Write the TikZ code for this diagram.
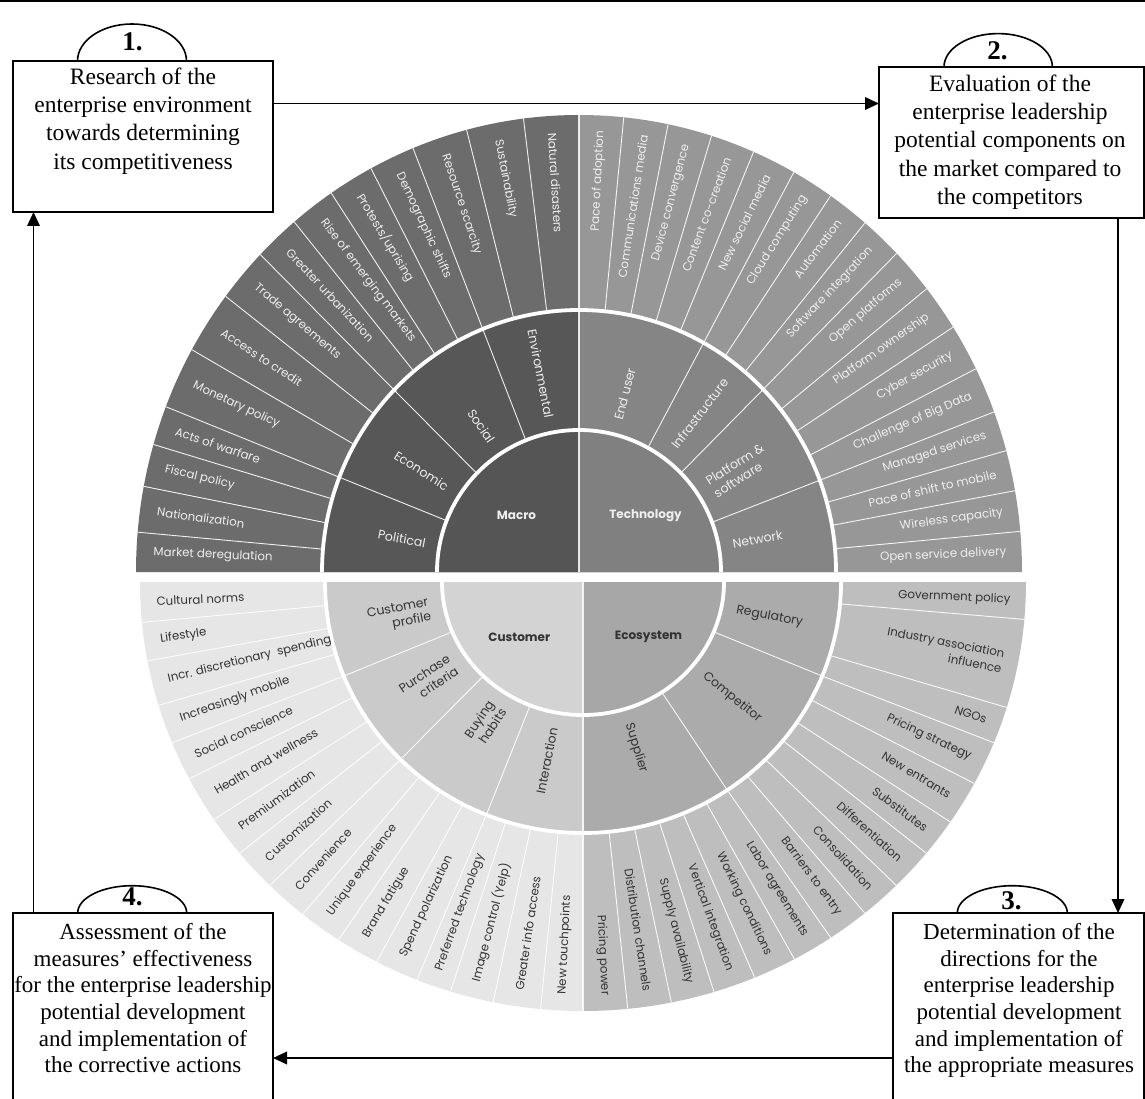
\documentclass[tikz,border=0pt]{standalone}
\usepackage{fontspec}
\setmainfont{Liberation Serif}
\newfontfamily\wf{Poppins}
\usetikzlibrary{arrows.meta}
\definecolor{mO}{HTML}{6C6C6C}
\definecolor{mM}{HTML}{575757}
\definecolor{mI}{HTML}{555555}
\definecolor{tO}{HTML}{979797}
\definecolor{tM}{HTML}{858585}
\definecolor{tI}{HTML}{808080}
\definecolor{cO}{HTML}{E6E6E6}
\definecolor{cM}{HTML}{CACACA}
\definecolor{cI}{HTML}{D3D3D3}
\definecolor{eO}{HTML}{BEBEBE}
\definecolor{eM}{HTML}{ABABAB}
\definecolor{eI}{HTML}{A7A7A7}
\definecolor{lighttext}{HTML}{EEEEEE}
\definecolor{darktext}{HTML}{333333}
\newcounter{wlab}
% outer labels
\newcommand\wOL[5]{\stepcounter{wlab}\node[olab,#5,anchor=west,rotate=#1-180] (w\arabic{wlab}) at (#1:#3pt and #4pt) {#2};}
\newcommand\wOR[5]{\stepcounter{wlab}\node[olab,#5,anchor=east,rotate=#1] (w\arabic{wlab}) at (#1:#3pt and #4pt) {#2};}
% middle labels
\newcommand\wML[5]{\stepcounter{wlab}\node[mlab,#5,anchor=east,rotate=#1-180] (w\arabic{wlab}) at (#1:#3pt and #4pt) {#2};}
\newcommand\wMR[5]{\stepcounter{wlab}\node[mlab,#5,anchor=west,rotate=#1] (w\arabic{wlab}) at (#1:#3pt and #4pt) {#2};}
% filled sector from centre
\newcommand\wpie[5]{\fill[#5] (0,0) -- (#1:#3pt and #4pt) arc[start angle=#1,end angle=#2,x radius=#3pt,y radius=#4pt] -- cycle;}
\begin{document}
\begin{tikzpicture}[x=1pt,y=1pt,
  olab/.style={inner sep=0pt,font=\wf\fontsize{11.8}{15.5}\selectfont},
  mlab/.style={inner sep=0pt,font=\wf\fontsize{12.5}{15}\selectfont},
  clab/.style={inner sep=0pt,font=\wf\bfseries\fontsize{12}{14}\selectfont},
  txL/.style={text=lighttext},
  txD/.style={text=darktext},
  sepline/.style={white,line width=0.9pt,opacity=0.9},
  ringgap/.style={white,line width=3.8pt},
  divline/.style={white,line width=1.3pt,opacity=0.85},
  boxA/.style={draw,line width=1.6pt,inner sep=0pt,outer sep=0pt},
  conn/.style={line width=1.9pt,-{Triangle[length=14pt,width=12.5pt]}},
  tabarc/.style={line width=1.6pt},
  num/.style={font=\fontsize{27}{30}\selectfont\bfseries,inner sep=0pt,anchor=base},
  btxtA/.style={align=center,inner sep=0pt,anchor=north,font=\fontsize{23.5}{28.3}\selectfont},
  btxtB/.style={align=center,inner sep=0pt,anchor=north,font=\fontsize{23}{26.7}\selectfont}
]
\useasboundingbox (0,0) rectangle (1145,-1099);
\fill[white] (0,0) rectangle (1145,-1099);

% ================= top half =================
\begin{scope}[shift={(579,-572)}]
  \wpie{90}{180}{443}{457}{mO}
  \wpie{90}{180}{257}{262}{mM}
  \wpie{90}{180}{142}{142}{mI}
  \wpie{0}{90}{443}{457}{tO}
  \wpie{0}{90}{257}{262}{tM}
  \wpie{0}{90}{142}{142}{tI}
  \foreach \a in {175,169.2,163.8,158.8,150.9,142.9,136,130,124,118,112,104.7,97.2,
                  84.2,78.4,72.6,66.8,61,55.4,49.8,44.2,38.3,32.4,26.4,20.5,15.4,10.25,5.1}
    \draw[sepline] (\a:257pt and 262pt) -- (\a:443pt and 457pt);
  \foreach \a in {158.8,136,112,61,44.2,20.5}
    \draw[sepline] (\a:142pt and 142pt) -- (\a:257pt and 262pt);
  \draw[divline] (0,0) -- (0,457);
  \draw[ringgap] (0:142pt) arc[start angle=0,end angle=180,radius=142pt];
  \draw[ringgap] (0:257pt and 262pt) arc[start angle=0,end angle=180,x radius=257pt,y radius=262pt];
  % Macro outer
  \wOL{177.5}{Market deregulation}{426}{440}{txL}
  \wOL{172.1}{Nationalization}{426}{440}{txL}
  \wOL{166.5}{Fiscal policy}{426}{440}{txL}
  \wOL{161.3}{Acts of warfare}{426}{440}{txL}
  \wOL{154.85}{Monetary policy}{426}{440}{txL}
  \wOL{146.9}{Access to credit}{426}{440}{txL}
  \wOL{139.45}{Trade agreements}{426}{440}{txL}
  \wOL{133}{Greater urbanization}{426}{440}{txL}
  \wOL{127}{Rise of emerging markets}{426}{440}{txL}
  \wOL{121}{Protests/uprising}{426}{440}{txL}
  \wOL{115}{Demographic shifts}{426}{440}{txL}
  \wOL{108.35}{Resource scarcity}{426}{440}{txL}
  \wOL{100.95}{Sustainability}{426}{440}{txL}
  \wOL{93.6}{Natural disasters}{426}{440}{txL}
  % Technology outer
  \wOR{87.1}{Pace of adoption}{428}{442}{txL}
  \wOR{81.3}{Communications media}{428}{442}{txL}
  \wOR{75.5}{Device convergence}{428}{442}{txL}
  \wOR{69.7}{Content co-creation}{428}{442}{txL}
  \wOR{63.9}{New social media}{428}{442}{txL}
  \wOR{58.2}{Cloud computing}{428}{442}{txL}
  \wOR{52.6}{Automation}{428}{442}{txL}
  \wOR{47}{Software integration}{428}{442}{txL}
  \wOR{41.25}{Open platforms}{428}{442}{txL}
  \wOR{35.35}{Platform ownership}{428}{442}{txL}
  \wOR{29.4}{Cyber security}{428}{442}{txL}
  \wOR{23.45}{Challenge of Big Data}{428}{442}{txL}
  \wOR{17.95}{Managed services}{428}{442}{txL}
  \wOR{12.8}{Pace of shift to mobile}{428}{442}{txL}
  \wOR{7.7}{Wireless capacity}{428}{442}{txL}
  \wOR{2.55}{Open service delivery}{428}{442}{txL}
  % middle labels
  \wML{169.4}{Political}{156}{157}{txL}
  \wML{147.4}{Economic}{156}{157}{txL}
  \wML{124}{Social}{156}{157}{txL}
  \wML{101}{Environmental}{156}{157}{txL}
  \wMR{75.5}{End user}{156}{157}{txL}
  \wMR{52.6}{Infrastructure}{156}{157}{txL}
  \wMR{32.35}{Platform \&\\software}{156}{157}{txL,align=left}
  \wMR{10.25}{Network}{156}{157}{txL}
\end{scope}

% ================= bottom half =================
\begin{scope}[shift={(583,-582)}]
  \wpie{180}{270}{443}{429}{cO}
  \wpie{180}{270}{258}{251}{cM}
  \wpie{180}{270}{141}{133}{cI}
  \wpie{270}{360}{443}{429}{eO}
  \wpie{270}{360}{258}{251}{eM}
  \wpie{270}{360}{141}{133}{eI}
  \foreach \a in {185.4,190.6,196.7,202,207.3,213.6,219.2,225,230.75,236.5,242.25,248,252.6,258.3,264.5,
                  275.8,281.5,287.2,292.8,298.5,304,309.5,315,320.8,326,332,338,343,355}
    \draw[sepline] (\a:258pt and 251pt) -- (\a:443pt and 429pt);
  \foreach \a in {202,225,248,304,338}
    \draw[sepline] (\a:141pt and 133pt) -- (\a:258pt and 251pt);
  \draw[divline] (0,0) -- (0,-429);
  \draw[ringgap] (180:141pt and 133pt) arc[start angle=180,end angle=360,x radius=141pt,y radius=133pt];
  \draw[ringgap] (180:258pt and 251pt) arc[start angle=180,end angle=360,x radius=258pt,y radius=251pt];
  % Customer outer
  \wOL{182.7}{Cultural norms}{427}{413}{txD}
  \wOL{188}{Lifestyle}{427}{413}{txD}
  \wOL{193.65}{Incr. discretionary~ spending}{427}{413}{txD}
  \wOL{199.35}{Increasingly mobile}{427}{413}{txD}
  \wOL{204.65}{Social conscience}{427}{413}{txD}
  \wOL{210.45}{Health and wellness}{427}{413}{txD}
  \wOL{216.4}{Premiumization}{427}{413}{txD}
  \wOL{222.1}{Customization}{427}{413}{txD}
  \wOL{227.9}{Convenience}{427}{413}{txD}
  \wOL{233.6}{Unique experience}{427}{413}{txD}
  \wOL{239.4}{Brand fatigue}{427}{413}{txD}
  \wOL{245.1}{Spend polarization}{427}{413}{txD}
  \wOL{250.3}{Preferred technology}{427}{413}{txD}
  \wOL{255.45}{Image control (Yelp)}{427}{413}{txD}
  \wOL{261.4}{Greater info access}{427}{413}{txD}
  \wOL{267.25}{New touchpoints}{427}{413}{txD}
  % Ecosystem outer
  \wOR{272.9}{Pricing power}{428}{414}{txD}
  \wOR{278.65}{Distribution channels}{428}{414}{txD}
  \wOR{284.35}{Supply availability}{428}{414}{txD}
  \wOR{290}{Vertical integration}{428}{414}{txD}
  \wOR{295.65}{Working conditions}{428}{414}{txD}
  \wOR{301.25}{Labor agreements}{428}{414}{txD}
  \wOR{306.75}{Barriers to entry}{428}{414}{txD}
  \wOR{312.25}{Consolidation}{428}{414}{txD}
  \wOR{317.9}{Differentiation}{428}{414}{txD}
  \wOR{323.4}{Substitutes}{428}{414}{txD}
  \wOR{329}{New entrants}{428}{414}{txD}
  \wOR{335}{Pricing strategy}{428}{414}{txD}
  \wOR{340.5}{NGOs}{428}{414}{txD}
  \wOR{349}{Industry association\\influence}{428}{414}{txD,align=right}
  \wOR{357.5}{Government policy}{428}{414}{txD}
  % middle labels
  \wML{191}{Customer\\profile}{156}{148}{txD,align=right}
  \wML{213.5}{Purchase\\criteria}{156}{148}{txD,align=right}
  \wML{236.5}{Buying\\habits}{156}{148}{txD,align=right}
  \wML{259}{Interaction}{156}{148}{txD}
  \wMR{349}{Regulatory}{156}{148}{txD}
  \wMR{321}{Competitor}{156}{148}{txD}
  \wMR{287}{Supplier}{156}{148}{txD}
\end{scope}

% centre labels
\node[clab,txL] (cMacro) at (516.5,-515) {Macro};
\node[clab,txL] (cTech) at (645.5,-515.5) {Technology};
\node[clab,txD] (cCust) at (519.3,-637.3) {Customer};
\node[clab,txD] (cEco) at (648.5,-637.3) {Ecosystem};

% ================= frame and boxes =================
\draw[line width=1.7pt] (0,-0.85) -- (1145,-0.85);

\node[boxA,minimum width=260pt,minimum height=151pt] (b1) at (143,-136.5) {};
\node[boxA,minimum width=265pt,minimum height=151pt] (b2) at (1011.5,-142.5) {};
\node[boxA,minimum width=251pt,minimum height=200pt] (b3) at (1018.5,-1013) {};
\node[boxA,minimum width=260pt,minimum height=200pt] (b4) at (143,-1013) {};

\draw[tabarc] (77.5,-61) arc[start angle=180,end angle=0,x radius=54.5pt,y radius=37pt];
\draw[tabarc] (944,-67) arc[start angle=180,end angle=0,x radius=54.2pt,y radius=33.4pt];
\draw[tabarc] (957.3,-913) arc[start angle=180,end angle=0,x radius=55pt,y radius=27.3pt];
\draw[tabarc] (77.7,-913) arc[start angle=180,end angle=0,x radius=54.5pt,y radius=27.3pt];

\node[num] (n1) at (132.5,-50.5) {1.};
\node[num] (n2) at (997.5,-60) {2.};
\node[num] (n3) at (1011.5,-909.5) {3.};
\node[num] (n4) at (132.5,-905) {4.};

\node[btxtA] (t1) at (143,-67.5) {Research of the\\enterprise environment\\towards determining\\its competitiveness};
\node[btxtA] (t2) at (1010,-74.4) {Evaluation of the\\enterprise leadership\\potential components on\\the market compared to\\the competitors};
\node[btxtB] (t3) at (1019,-923) {Determination of the\\directions for the\\enterprise leadership\\potential development\\and implementation of\\the appropriate measures};
\node[btxtB] (t4) at (143,-923) {Assessment of the\\measures’ effectiveness\\for the enterprise leadership\\potential development\\and implementation of\\the corrective actions};

% connectors
\coordinate (y12) at (0,-103.5);
\coordinate (x23) at (1118,0);
\coordinate (y34) at (0,-1058);
\coordinate (x41) at (33.5,0);
\draw[conn] (b1.east |- y12) -- (b2.west |- y12);
\draw[conn] (b2.south -| x23) -- (b3.north -| x23);
\draw[conn] (b3.west |- y34) -- (b4.east |- y34);
\draw[conn] (b4.north -| x41) -- (b1.south -| x41);
\end{tikzpicture}
\end{document}
